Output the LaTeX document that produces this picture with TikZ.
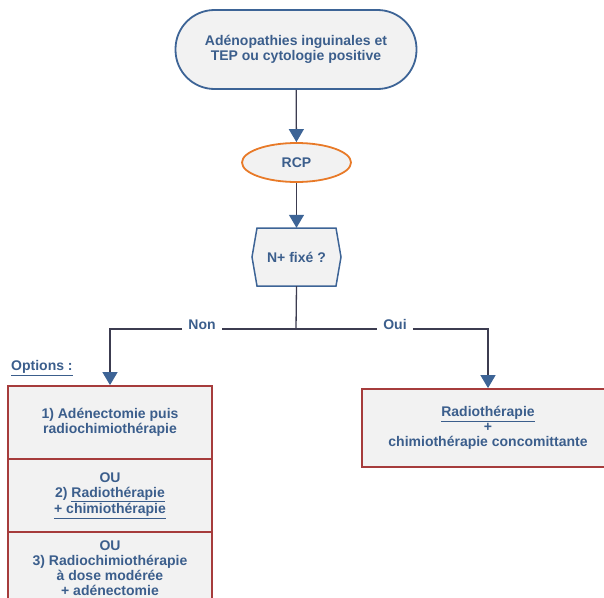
\documentclass[tikz,border=0pt]{standalone}
\usepackage{fontspec}
\setmainfont{Liberation Sans}
\usetikzlibrary{arrows.meta,shapes.geometric}
\definecolor{txtblue}{RGB}{59,94,140}
\definecolor{bdblue}{RGB}{61,100,150}
\definecolor{orangeb}{RGB}{232,122,40}
\definecolor{redb}{RGB}{166,60,60}
\definecolor{linec}{RGB}{60,60,80}
\definecolor{fillg}{RGB}{242,242,242}
\tikzset{
  txt/.style={text=txtblue, font=\fontsize{14}{15}\selectfont\bfseries, align=center},
  terminal/.style={txt, draw=bdblue, line width=1.8pt, fill=fillg, rounded corners=39pt, minimum width=241pt, minimum height=79pt},
  rcpnode/.style={txt, ellipse, draw=orangeb, line width=1.8pt, fill=fillg, minimum width=109pt, minimum height=39pt},
  hexnode/.style={txt, minimum width=89pt, minimum height=58pt},
  hexdraw/.style={draw=bdblue, line width=1.5pt, fill=fillg},
  optbox/.style={txt, draw=redb, line width=1.8pt, fill=fillg, minimum width=204pt, minimum height=73pt},
  resbox/.style={txt, draw=redb, line width=1.8pt, fill=fillg, minimum width=252pt, minimum height=78pt},
  lbl/.style={txt, inner sep=0pt},
  conn/.style={draw=linec, line width=1.3pt},
  arr/.style={conn, -{Triangle[width=15pt,length=13pt,color=bdblue]}},
}
\begin{document}
\begin{tikzpicture}[x=1pt,y=-1pt]
\useasboundingbox (0,0) rectangle (604,597);
\node[terminal] (top) at (296,49.5) {Adénopathies inguinales et\\TEP ou cytologie positive};
\node[rcpnode] (rcp) at (296.5,162.5) {RCP};
\path[hexdraw] (257,228) -- (336,228) -- (341,257) -- (336,286) -- (257,286) -- (252,257) -- cycle;
\node[hexnode] (q) at (296.5,257) {N+ fixé ?};
\coordinate (split) at (296,329);
\node[lbl] (non) at (202,325) {Non};
\node[lbl] (oui) at (395,324) {Oui};
\node[txt, anchor=west, inner sep=0pt] (opt) at (11,368) {\underline{Options :}};
\node[optbox] (b1) at (110,422.5) {1) Adénectomie puis\\radiochimiothérapie};
\node[optbox] (b2) at (110,495.5) {OU\\2) \underline{Radiothérapie}\\\underline{+ chimiothérapie}};
\node[optbox, minimum height=72pt] (b3) at (110,568) {OU\\3) Radiochimiothérapie\\à dose modérée\\+ adénectomie};
\node[resbox] (b4) at (488,428) {\underline{Radiothérapie}\\+\\chimiothérapie concomittante};
\draw[arr] (top) -- (rcp);
\draw[arr] (rcp) -- (q);
\draw[conn] (q.south) -- (split);
\draw[conn] (split) -- ([xshift=6pt]non.east |- split);
\draw[arr] ([xshift=-6pt]non.west |- split) -| (b1.north);
\draw[conn] (split) -- ([xshift=-6pt]oui.west |- split);
\draw[arr] ([xshift=6pt]oui.east |- split) -| (b4.north);
\end{tikzpicture}
\end{document}
